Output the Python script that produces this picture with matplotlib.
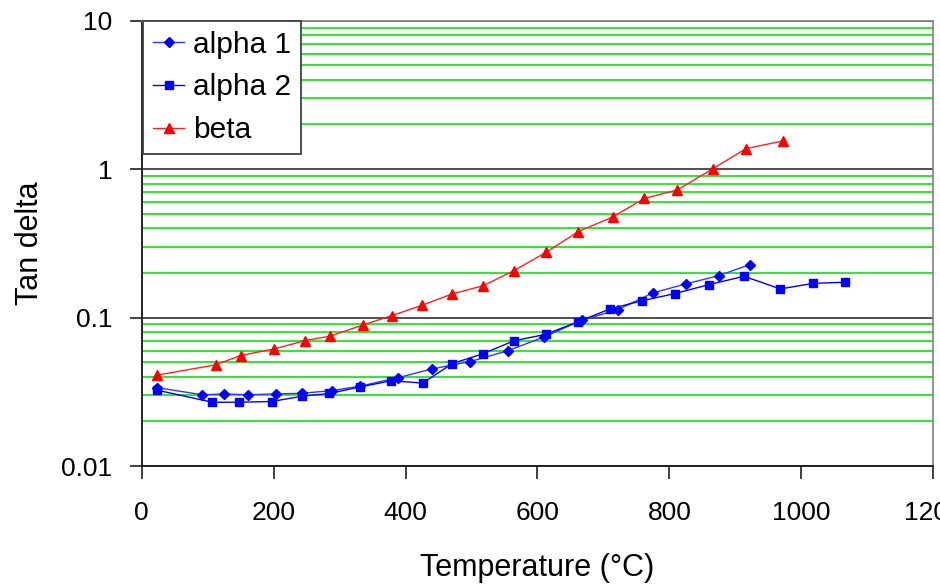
import numpy as np
import matplotlib
matplotlib.use("Agg")
import matplotlib.pyplot as plt
from matplotlib.ticker import LogLocator, FixedLocator, NullFormatter

plt.rcParams['font.family'] = ['Liberation Sans', 'DejaVu Sans']

# tan delta vs temperature for the three samples
alpha1_t = [24, 92, 125, 161, 203, 243, 288, 331, 388, 440, 498, 556, 610, 667,
            722, 775, 825, 875, 922]
alpha1_tan = [0.0337, 0.0302, 0.0306, 0.0302, 0.0306, 0.0309, 0.0322, 0.0345,
              0.0393, 0.0451, 0.0505, 0.060, 0.0741, 0.0959, 0.1132, 0.1467,
              0.1686, 0.1918, 0.2275]

alpha2_t = [24, 107, 148, 197, 243, 284, 331, 378, 426, 471, 518, 564, 613, 662,
            710, 759, 808, 860, 913, 968, 1018, 1066]
alpha2_tan = [0.0324, 0.0269, 0.0269, 0.0272, 0.0295, 0.0308, 0.0341, 0.0375,
              0.0362, 0.049, 0.0572, 0.0697, 0.0772, 0.094, 0.1144, 0.130,
              0.145, 0.1668, 0.1897, 0.156, 0.170, 0.173]

beta_t = [24, 112, 150, 201, 248, 286, 335, 379, 425, 470, 518, 564, 613, 662,
          714, 762, 812, 866, 916, 972]
beta_tan = [0.041, 0.048, 0.0555, 0.0615, 0.070, 0.075, 0.089, 0.103, 0.121,
            0.144, 0.164, 0.207, 0.275, 0.38, 0.476, 0.635, 0.724, 1.008,
            1.374, 1.55]

x_ticks = [0, 200, 400, 600, 800, 1000, 1200]
y_ticks = [0.01, 0.1, 1, 10]
y_ticklabels = ['0.01', '0.1', '1', '10']

fig = plt.figure(figsize=(9.4, 5.85), dpi=100)
ax = fig.add_axes([0.1507, 0.2034, 0.8422, 0.7612])

ax.set_yscale('log')
ax.set_xlim(0, 1200)
ax.set_ylim(0.01, 10)

# gridlines: black on decades, green in between
ax.yaxis.set_major_locator(FixedLocator(y_ticks))
ax.yaxis.set_minor_locator(LogLocator(base=10, subs=np.arange(2, 10)))
ax.yaxis.set_minor_formatter(NullFormatter())
ax.set_yticklabels(y_ticklabels)
ax.set_xticks(x_ticks)
ax.grid(True, which='major', axis='y', color='#303030', lw=1.2)
ax.grid(True, which='minor', axis='y', color='#1ee61e', lw=1.3)
ax.set_axisbelow(True)

ax.plot(alpha1_t, alpha1_tan, color='#3535ff', lw=1.0, marker='D', ms=5.5,
        mfc='#0000ff', mec='#0000ff', label='alpha 1')
ax.plot(alpha2_t, alpha2_tan, color='#0000ff', lw=1.0, marker='s', ms=6,
        mfc='#0000ff', mec='#0000ff', label='alpha 2')
ax.plot(beta_t, beta_tan, color='#ff2020', lw=1.0, marker='^', ms=6.5,
        mfc='#ff0000', mec='#ff0000', label='beta')

ax.tick_params(axis='both', which='major', labelsize=19, length=9, width=1.2,
               color='#202020')
ax.tick_params(axis='x', pad=16)
ax.tick_params(axis='y', pad=12)
ax.tick_params(axis='y', which='minor', length=0)

for side in ['left', 'bottom']:
    ax.spines[side].set_color('#202020')
    ax.spines[side].set_linewidth(1.4)
for side in ['top', 'right']:
    ax.spines[side].set_color('#808080')
    ax.spines[side].set_linewidth(1.2)

ax.set_xlabel('Temperature (°C)', fontsize=22, labelpad=20)
ax.set_ylabel('Tan delta', fontsize=22, labelpad=12)

leg = ax.legend(loc='upper left', bbox_to_anchor=(0.002, 1.0), borderaxespad=0,
                fontsize=21.5, fancybox=False, edgecolor='#404040', framealpha=1,
                handlelength=1.05, handletextpad=0.3, labelspacing=0.5,
                borderpad=0.33)
leg.get_frame().set_linewidth(1.3)

fig.savefig('out.png', dpi=100)
